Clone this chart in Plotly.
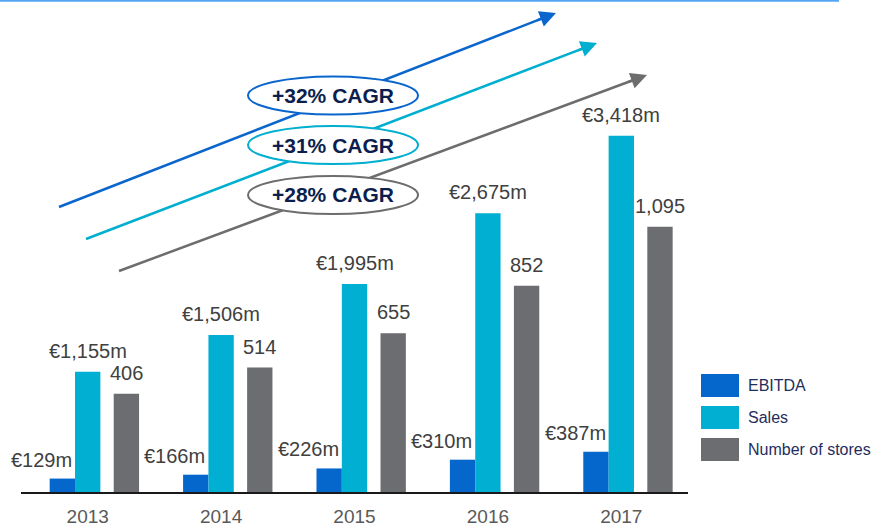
import plotly.graph_objects as go

# dados do grafico
anos = [2013, 2014, 2015, 2016, 2017]
ebitda = [129, 166, 226, 310, 387]
vendas = [1155, 1506, 1995, 2675, 3418]
lojas = [406, 514, 655, 852, 1095]
series = ["EBITDA", "Sales", "Number of stores"]
cagr = ["+32% CAGR", "+31% CAGR", "+28% CAGR"]

cores = ["#0566CC", "#00AFD1", "#6B6D70"]
fonte = "Liberation Sans, Arial, sans-serif"

# area do grafico em pixels
L, R, T, B = 21, 688, 10, 492
W, H = R - L, B - T


def px(x):
    return (x - L) / W


def py(y):
    return (B - y) / H


fig = go.Figure()

# Barras (EBITDA e vendas no mesmo eixo, lojas no eixo secundario)
fig.add_trace(go.Bar(x=anos, y=ebitda, name=series[0], marker_color=cores[0],
                     width=0.19, offset=-0.285, marker_line_width=0))
fig.add_trace(go.Bar(x=anos, y=vendas, name=series[1], marker_color=cores[1],
                     width=0.19, offset=-0.095, marker_line_width=0))
fig.add_trace(go.Bar(x=anos, y=lojas, name=series[2], marker_color=cores[2],
                     width=0.19, offset=0.195, marker_line_width=0, yaxis="y2"))

anotacoes = []
for a, e, v, n in zip(anos, ebitda, vendas, lojas):
    anotacoes.append(dict(x=a - 0.095, y=e, xref="x", yref="y", text=f"€{e:,}m",
                          showarrow=False, xanchor="right", yanchor="middle",
                          xshift=-1, yshift=19, font=dict(size=20, color="#404040")))
    anotacoes.append(dict(x=a, y=v, xref="x", yref="y", text=f"€{v:,}m",
                          showarrow=False, xanchor="center", yanchor="bottom",
                          yshift=8, font=dict(size=20, color="#404040")))
    anotacoes.append(dict(x=a + 0.29, y=n, xref="x", yref="y2", text=f"{n:,}",
                          showarrow=False, xanchor="center", yanchor="bottom",
                          yshift=8, font=dict(size=20, color="#404040")))

shapes = []

# linha azul no topo
shapes.append(dict(type="line", xref="paper", yref="paper", x0=px(0), x1=px(839),
                   y0=py(0.8), y1=py(0.8), line=dict(color="#55A5F5", width=2)))

# setas de crescimento
setas = [((59, 207), (556, 13)), ((86, 239), (597, 43)), ((119, 271), (647, 75))]
cores_seta = ["#0A66CC", "#00AED0", "#6D6D6D"]
for (p0, p1), c in zip(setas, cores_seta):
    dx, dy = p1[0] - p0[0], p1[1] - p0[1]
    comp = (dx ** 2 + dy ** 2) ** 0.5
    ux, uy = dx / comp, dy / comp
    fim = (p1[0] - 10 * ux, p1[1] - 10 * uy)
    shapes.append(dict(type="line", xref="paper", yref="paper",
                       x0=px(p0[0]), y0=py(p0[1]), x1=px(fim[0]), y1=py(fim[1]),
                       line=dict(color=c, width=2.5)))
    anotacoes.append(dict(x=px(p1[0]), y=py(p1[1]), xref="paper", yref="paper",
                          ax=-22 * ux, ay=-22 * uy, axref="pixel", ayref="pixel",
                          text="", showarrow=True, arrowhead=2, arrowsize=1.3,
                          arrowwidth=2.5, arrowcolor=c, standoff=0))

# elipses CAGR
centros = [95.5, 145, 195]
for cy, c, t in zip(centros, cores_seta, cagr):
    shapes.append(dict(type="circle", xref="paper", yref="paper",
                       x0=px(248), x1=px(418), y0=py(cy + 19), y1=py(cy - 19),
                       fillcolor="white", line=dict(color=c, width=2)))
    anotacoes.append(dict(x=px(333), y=py(cy), xref="paper", yref="paper", text=f"<b>{t}</b>",
                          showarrow=False, xanchor="center", yanchor="middle",
                          font=dict(size=21, color="#0C1E4E")))

# legenda manual
leg_y = [374, 406, 438]
for yy, c, nome in zip(leg_y, cores, series):
    shapes.append(dict(type="rect", xref="paper", yref="paper",
                       x0=px(701), x1=px(739), y0=py(yy + 23), y1=py(yy),
                       fillcolor=c, line=dict(width=0)))
    anotacoes.append(dict(x=px(746), y=py(yy + 11.5), xref="paper", yref="paper", text=nome,
                          showarrow=False, xanchor="left", yanchor="middle",
                          font=dict(size=16, color="#1F2D5C")))

fig.update_layout(
    width=872,
    height=526,
    autosize=False,
    margin=dict(l=L, r=872 - R, t=T, b=526 - B),
    plot_bgcolor="white",
    paper_bgcolor="white",
    showlegend=False,
    font=dict(family=fonte),
    xaxis=dict(range=[2012.5, 2017.5], tickvals=anos, ticktext=[str(a) for a in anos],
               showgrid=False, zeroline=False, showline=True, linecolor="#1A1A1A",
               linewidth=1.5, ticks="", ticklabelstandoff=6, automargin=False,
               tickfont=dict(size=19, color="#595959")),
    yaxis=dict(range=[0, 4625], visible=False, showgrid=False),
    yaxis2=dict(range=[0, 1990], visible=False, overlaying="y", showgrid=False),
    shapes=shapes,
    annotations=anotacoes,
)

fig.write_html("out.html", config={"responsive": False, "displayModeBar": False},
               post_script="document.body.style.margin='0';")
